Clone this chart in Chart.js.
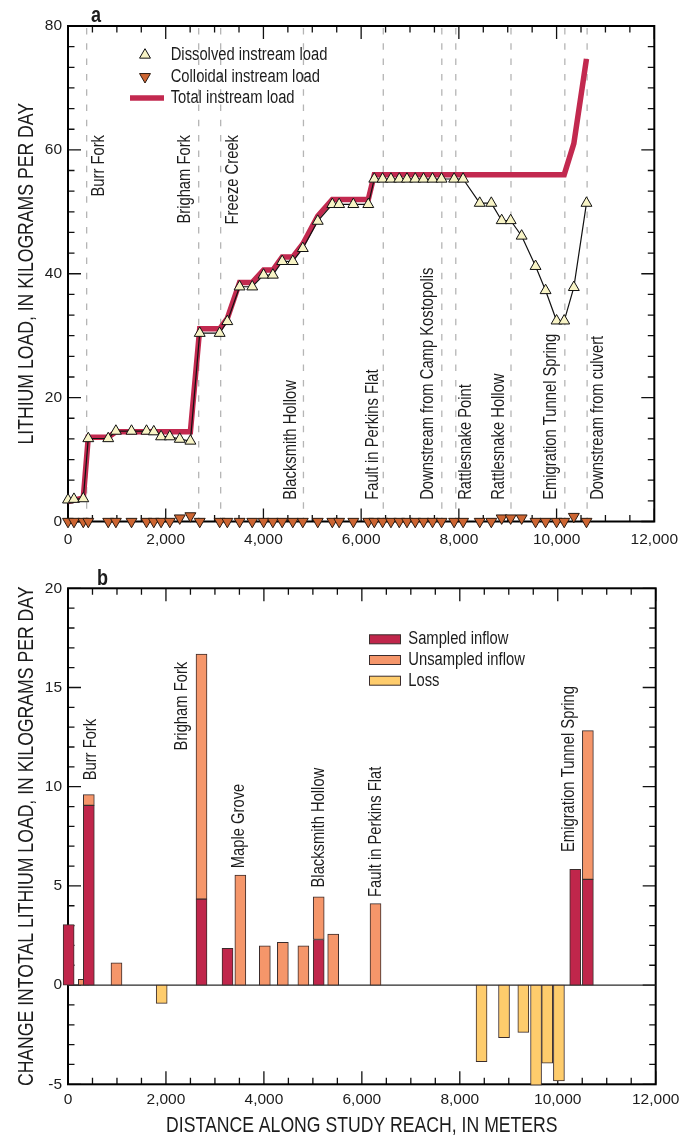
<!DOCTYPE html>
<html lang="en">
<head>
<meta charset="utf-8">
<title>Lithium load along the study reach</title>
<script src="https://cdn.jsdelivr.net/npm/chart.js@4.4.1/dist/chart.umd.min.js"></script>
<style>
  html, body { margin: 0; padding: 0; background: #fff; }
  #page { position: relative; width: 687px; height: 1139px; overflow: hidden; }
  canvas { position: absolute; left: 0; display: block; }
  #chartA { top: 0; }
  #chartB { top: 560px; }
</style>
</head>
<body>
<div id="page">
  <canvas id="chartA" width="687" height="560"></canvas>
  <canvas id="chartB" width="687" height="579"></canvas>
</div>
<script>
// ---------- Panel a: instream lithium load (kg/day) ----------
const siteDistance = [0, 122, 313, 415, 823, 980, 1300, 1607, 1756, 1905, 2083, 2287, 2505,
  2696, 3104, 3261, 3512, 3771, 4003, 4193, 4384, 4601, 4806, 5112, 5410, 5550, 5840, 6146,
  6269, 6439, 6610, 6780, 6938, 7107, 7277, 7461, 7645, 7903, 8087,
  8427, 8664, 8876, 9060, 9285, 9570, 9775, 10000, 10156, 10353, 10612];
const dissolvedLoad = [3.5, 3.6, 3.7, 13.4, 13.4, 14.6, 14.6, 14.6, 14.5, 13.7, 13.7, 13.3, 13.0,
  30.4, 30.4, 32.3, 37.9, 37.9, 39.8, 39.8, 42.0, 42.0, 44.1, 48.5, 51.2, 51.2, 51.2, 51.2,
  55.3, 55.3, 55.3, 55.3, 55.3, 55.3, 55.3, 55.3, 55.3, 55.3, 55.3,
  51.4, 51.4, 48.6, 48.6, 46.1, 41.2, 37.3, 32.4, 32.4, 37.8, 51.4];
const colloidalLoad = [0, 0, 0, 0, 0, 0, 0, 0, 0, 0, 0, 0.55, 0.9,
  0, 0, 0, 0, 0, 0, 0, 0, 0, 0, 0, 0, 0, 0, 0,
  0, 0, 0, 0, 0, 0, 0, 0, 0, 0, 0,
  0, 0, 0.55, 0.55, 0.55, 0, 0, 0, 0, 0.8, 0];
const totalDistance = [0, 313, 415, 823, 980, 2505, 2696, 3104, 3261, 3512, 3771, 4003, 4193,
  4384, 4601, 4806, 5112, 5410, 6146, 6269, 10156, 10353, 10612];
const totalLoad = [3.2, 3.8, 13.6, 13.6, 14.5, 14.5, 31.1, 31.1, 32.8, 38.6, 38.6, 40.6, 40.6,
  42.7, 42.7, 44.8, 49.3, 52.0, 52.0, 56.0, 56.0, 61.0, 74.7];

const siteNames = ['Burr Fork', 'Brigham Fork', 'Freeze Creek', 'Blacksmith Hollow',
  'Fault in Perkins Flat', 'Downstream from Camp Kostopolis', 'Rattlesnake Point',
  'Rattlesnake Hollow', 'Emigration Tunnel Spring', 'Downstream from culvert'];
const siteLineDistance = [382, 2675, 3125, 4819, 6453, 7651, 7937, 9067, 10169, 10625];

// ---------- Panel b: change in total lithium load (kg/day) ----------
const sampledDistance = [13, 425, 2726, 3257, 5119, 10357, 10615];
const sampledInflow = [3.05, 9.06, 4.33, 1.85, 2.30, 5.84, 5.33];
const unsampledDistance = [323, 425, 990, 2726, 3519, 4019, 4387, 4806, 5119, 5415, 6279, 10615];
const unsampledInflow = [0.29, 0.54, 1.12, 12.36, 5.54, 1.98, 2.15, 1.98, 2.15, 2.57, 4.11, 7.50];
const lossDistance = [1913, 8444, 8903, 9297, 9557, 9785, 10024];
const lossLoad = [-0.92, -3.86, -2.65, -2.38, -5.05, -3.93, -4.83];

const inflowNames = ['Burr Fork', 'Brigham Fork', 'Maple Grove', 'Blacksmith Hollow',
  'Fault in Perkins Flat', 'Emigration Tunnel Spring'];

// ---------- shared styling ----------
const FONT = '"Liberation Sans", Arial, sans-serif';
const SQUEEZE = 0.82;           // horizontal squeeze for a narrow face
const INK = '#1c1c1c';
const C_TOTAL = '#C2294F';
const C_DISSOLVED = '#F8F4C6';
const C_COLLOIDAL = '#CD6532';
const C_SAMPLED = '#C0264B';
const C_UNSAMPLED = '#F5966A';
const C_LOSS = '#FECC6C';
const C_BAR_EDGE = '#3a2c2c';

const pts = (xs, ys) => xs.map((x, i) => ({ x, y: ys[i] }));

// narrow text, optionally turned to read bottom-to-top
function narrowText(ctx, str, x, y, opts) {
  const o = Object.assign({ size: 18, weight: 'normal', vertical: false, align: 'left', baseline: 'middle' }, opts);
  ctx.save();
  ctx.translate(x, y);
  if (o.vertical) ctx.rotate(-Math.PI / 2);
  ctx.scale(SQUEEZE, 1);
  ctx.font = `${o.weight} ${o.size}px ${FONT}`;
  ctx.fillStyle = INK;
  ctx.textAlign = o.align;
  ctx.textBaseline = o.baseline;
  ctx.fillText(str, 0, 0);
  ctx.restore();
}

// plot frame with inward tick marks on all four sides
function drawFrame(chart, yStep, yMajorEvery) {
  const { ctx, chartArea: a, scales: { x, y } } = chart;
  ctx.save();
  ctx.strokeStyle = '#111';
  ctx.lineWidth = 1.3;
  ctx.beginPath();
  for (let v = x.min; v <= x.max + 1e-6; v += 500) {
    const px = x.getPixelForValue(v);
    const len = v % 2000 === 0 ? 13 : 6.5;
    ctx.moveTo(px, a.bottom); ctx.lineTo(px, a.bottom - len);
    ctx.moveTo(px, a.top); ctx.lineTo(px, a.top + len);
  }
  const n = Math.round((y.max - y.min) / yStep);
  for (let k = 0; k <= n; k++) {
    const py = y.getPixelForValue(y.min + k * yStep);
    const len = k % yMajorEvery === 0 ? 13 : 6.5;
    ctx.moveTo(a.left, py); ctx.lineTo(a.left + len, py);
    ctx.moveTo(a.right, py); ctx.lineTo(a.right - len, py);
  }
  ctx.stroke();
  ctx.lineWidth = 2;
  ctx.strokeStyle = '#000';
  ctx.strokeRect(a.left, a.top, a.right - a.left, a.bottom - a.top);
  ctx.restore();
}

const tickFont = { family: FONT, size: 15.5 };

// ---------- panel a ----------
// side offset (px) of each site name from its dashed line, and whether it hangs from the top
const siteLabelLayout = [
  { dx: 12, upper: true }, { dx: -13.5, upper: true }, { dx: 12, upper: true },
  { dx: -12, upper: false }, { dx: -10, upper: false }, { dx: -14, upper: false },
  { dx: 10.5, upper: false }, { dx: -11.5, upper: false }, { dx: -14, upper: false },
  { dx: 10.5, upper: false }
];

const panelA = {
  id: 'panelA',
  beforeDatasetsDraw(chart) {
    const { ctx, chartArea: a, scales: { x, y } } = chart;
    ctx.save();
    ctx.strokeStyle = '#b5b5b5';
    ctx.lineWidth = 1.3;
    ctx.setLineDash([6.5, 8.8]);
    siteLineDistance.forEach(d => {
      const px = x.getPixelForValue(d);
      ctx.beginPath();
      ctx.moveTo(px, a.top + 2);
      ctx.lineTo(px, a.bottom);
      ctx.stroke();
    });
    ctx.restore();

    siteNames.forEach((name, i) => {
      const L = siteLabelLayout[i];
      const px = x.getPixelForValue(siteLineDistance[i]) + L.dx;
      const py = y.getPixelForValue(L.upper ? 62.4 : 3.5);
      narrowText(ctx, name, px, py, { vertical: true, align: L.upper ? 'right' : 'left' });
    });

    drawFrame(chart, 20 / 6, 6);
  },
  afterDatasetsDraw(chart) {
    const { ctx, chartArea: a } = chart;
    const lx = a.left + 77, tx = a.left + 102.7;
    const rows = [a.top + 29, a.top + 50.7, a.top + 72];
    ctx.save();
    ctx.lineWidth = 1;
    ctx.fillStyle = C_DISSOLVED; ctx.strokeStyle = '#111';
    Chart.helpers.drawPoint(ctx, { pointStyle: 'triangle', rotation: 0, radius: 6.3, borderWidth: 1 }, lx, rows[0]);
    ctx.fillStyle = C_COLLOIDAL; ctx.strokeStyle = '#2a1a10';
    Chart.helpers.drawPoint(ctx, { pointStyle: 'triangle', rotation: 180, radius: 6.3, borderWidth: 1 }, lx, rows[1]);
    ctx.strokeStyle = C_TOTAL; ctx.lineWidth = 5.5;
    ctx.beginPath(); ctx.moveTo(lx - 15, rows[2]); ctx.lineTo(lx + 19, rows[2]); ctx.stroke();
    ctx.restore();
    narrowText(ctx, 'Dissolved instream load', tx, rows[0]);
    narrowText(ctx, 'Colloidal instream load', tx, rows[1]);
    narrowText(ctx, 'Total instream load', tx, rows[2]);
    narrowText(ctx, 'a', 96, 21.7, { size: 22, weight: 'bold', align: 'center', baseline: 'alphabetic' });
    narrowText(ctx, 'LITHIUM LOAD, IN KILOGRAMS PER DAY', 27, (a.top + a.bottom) / 2,
      { size: 21.5, vertical: true, align: 'center' });
  }
};

new Chart(document.getElementById('chartA'), {
  type: 'line',
  data: {
    datasets: [
      {
        label: 'Colloidal instream load',
        data: pts(siteDistance, colloidalLoad),
        showLine: false,
        pointStyle: 'triangle', pointRotation: 180, pointRadius: 6.3,
        pointBackgroundColor: C_COLLOIDAL, pointBorderColor: '#2a1a10', pointBorderWidth: 1,
        clip: false
      },
      {
        label: 'Dissolved instream load',
        data: pts(siteDistance, dissolvedLoad),
        borderColor: '#111', borderWidth: 1.2, tension: 0,
        pointStyle: 'triangle', pointRadius: 6.3,
        pointBackgroundColor: C_DISSOLVED, pointBorderColor: '#111', pointBorderWidth: 1,
        clip: false
      },
      {
        label: 'Total instream load',
        data: pts(totalDistance, totalLoad),
        borderColor: C_TOTAL, borderWidth: 5.5, tension: 0, pointRadius: 0,
        clip: false
      }
    ]
  },
  options: {
    responsive: false, animation: false, events: [],
    layout: { padding: { top: 26, right: 31.3, left: 0, bottom: 0 } },
    plugins: { legend: { display: false }, tooltip: { enabled: false } },
    scales: {
      x: {
        type: 'linear', min: 0, max: 12000,
        ticks: { stepSize: 2000, font: tickFont, color: INK, padding: 9, maxRotation: 0 },
        grid: { display: false, drawTicks: false }, border: { display: false },
        afterFit(s) { s.height = 38.5; }
      },
      y: {
        min: 0, max: 80,
        ticks: { stepSize: 20, font: tickFont, color: INK, padding: 6 },
        grid: { display: false, drawTicks: false }, border: { display: false },
        afterFit(s) { s.width = 68; }
      }
    }
  },
  plugins: [panelA]
});

// ---------- panel b ----------
// name anchors (distance in m, load in kg/day) where each vertical label starts
const inflowLabelAnchor = [
  { d: 466, v: 10.32 }, { d: 2334, v: 11.83 }, { d: 3488, v: 5.89 },
  { d: 5119, v: 4.92 }, { d: 6285, v: 4.44 }, { d: 10237, v: 6.71 }
];

const panelB = {
  id: 'panelB',
  beforeDatasetsDraw(chart) {
    const { ctx, chartArea: a, scales: { x, y } } = chart;
    drawFrame(chart, 1, 5);
    ctx.save();
    ctx.strokeStyle = '#2a2a2a';
    ctx.lineWidth = 1.3;
    const y0 = y.getPixelForValue(0);
    ctx.beginPath(); ctx.moveTo(a.left, y0); ctx.lineTo(a.right, y0); ctx.stroke();
    ctx.restore();
    inflowNames.forEach((name, i) => {
      const p = inflowLabelAnchor[i];
      narrowText(ctx, name, x.getPixelForValue(p.d), y.getPixelForValue(p.v), { vertical: true });
    });
  },
  afterDatasetsDraw(chart) {
    const { ctx, chartArea: a } = chart;
    const items = [['Sampled inflow', C_SAMPLED], ['Unsampled inflow', C_UNSAMPLED], ['Loss', C_LOSS]];
    items.forEach(([label, color], i) => {
      const cy = 79.3 + i * 20.7;
      ctx.save();
      ctx.fillStyle = color;
      ctx.fillRect(369.5, cy - 4.5, 31, 9);
      ctx.strokeStyle = C_BAR_EDGE; ctx.lineWidth = 1;
      ctx.strokeRect(369.5, cy - 4.5, 31, 9);
      ctx.restore();
      narrowText(ctx, label, 408.3, cy);
    });
    narrowText(ctx, 'b', 102.5, 25, { size: 22, weight: 'bold', align: 'center', baseline: 'alphabetic' });
    narrowText(ctx, 'CHANGE INTOTAL LITHIUM LOAD, IN KILOGRAMS PER DAY', 27, (a.top + a.bottom) / 2,
      { size: 21.5, vertical: true, align: 'center' });
    narrowText(ctx, 'DISTANCE ALONG STUDY REACH, IN METERS', (a.left + a.right) / 2, 566,
      { size: 21.5, align: 'center' });
  }
};

new Chart(document.getElementById('chartB'), {
  type: 'bar',
  data: {
    datasets: [
      { label: 'Sampled inflow', data: pts(sampledDistance, sampledInflow), backgroundColor: C_SAMPLED },
      { label: 'Unsampled inflow', data: pts(unsampledDistance, unsampledInflow), backgroundColor: C_UNSAMPLED },
      { label: 'Loss', data: pts(lossDistance, lossLoad), backgroundColor: C_LOSS }
    ]
  },
  options: {
    responsive: false, animation: false, events: [],
    layout: { padding: { top: 28.3, right: 31.3, left: 0, bottom: 0 } },
    datasets: {
      bar: { barThickness: 11, borderWidth: 1, borderColor: C_BAR_EDGE, borderSkipped: false, clip: false }
    },
    plugins: { legend: { display: false }, tooltip: { enabled: false } },
    scales: {
      x: {
        type: 'linear', min: 0, max: 12000, offset: false, stacked: true,
        ticks: { stepSize: 2000, font: tickFont, color: INK, padding: 6, maxRotation: 0 },
        grid: { display: false, drawTicks: false, offset: false }, border: { display: false },
        afterFit(s) { s.height = 54.7; }
      },
      y: {
        min: -5, max: 20, stacked: true,
        ticks: { stepSize: 5, font: tickFont, color: INK, padding: 6 },
        grid: { display: false, drawTicks: false }, border: { display: false },
        afterFit(s) { s.width = 68; }
      }
    }
  },
  plugins: [panelB]
});
</script>
</body>
</html>
